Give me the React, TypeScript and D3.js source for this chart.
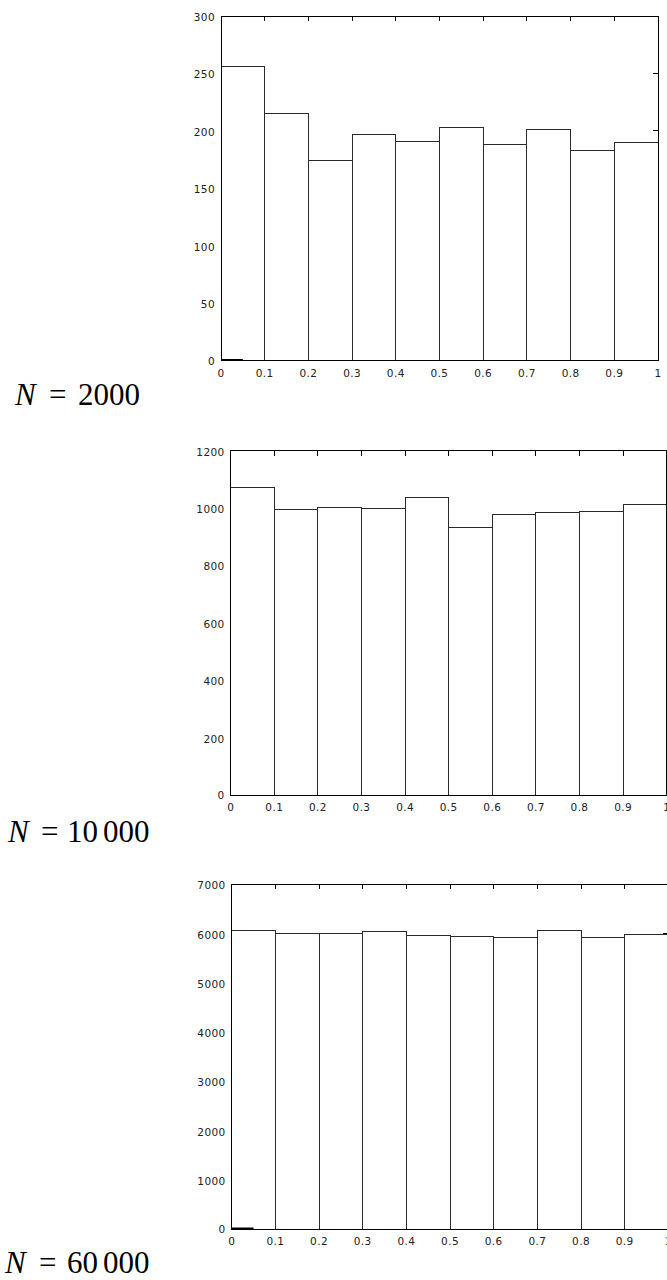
import React from "react";
import * as d3 from "d3";

// ---- data ----
const binStarts = [0, 0.1, 0.2, 0.3, 0.4, 0.5, 0.6, 0.7, 0.8, 0.9];
const binWidth = 0.1;
const xTicks = [0, 0.1, 0.2, 0.3, 0.4, 0.5, 0.6, 0.7, 0.8, 0.9, 1];
const xTickLabels = ["0", "0.1", "0.2", "0.3", "0.4", "0.5", "0.6", "0.7", "0.8", "0.9", "1"];

const counts2000 = [256, 215, 174, 197, 191, 203, 188, 201, 183, 190];
const counts10000 = [1072, 994, 1001, 997, 1036, 934, 976, 984, 987, 1011];
const counts60000 = [6060, 5997, 5997, 6038, 5957, 5936, 5916, 6066, 5910, 5977];

const yTicks2000 = [0, 50, 100, 150, 200, 250, 300];
const yTicks10000 = [0, 200, 400, 600, 800, 1000, 1200];
const yTicks60000 = [0, 1000, 2000, 3000, 4000, 5000, 6000, 7000];

const sampleSizes = ["2000", "10 000", "60 000"];
const stubEnd = [0.05, 0, 0.05];

// ---- layout ----
const panels = [
  { counts: counts2000, yTicks: yTicks2000, x0: 221, x1: 658, yTop: 16, yBot: 360.5,
    label: { x: 15, eq: 49, num: 78, base: 405 }, parts: ["2000"] },
  { counts: counts10000, yTicks: yTicks10000, x0: 230.7, x1: 666.7, yTop: 450.7, yBot: 795,
    label: { x: 8, eq: 41, num: 67, base: 842 }, parts: ["10", "000"] },
  { counts: counts60000, yTicks: yTicks60000, x0: 231.7, x1: 668.4, yTop: 884.3, yBot: 1229,
    label: { x: 5, eq: 39, num: 67, base: 1273 }, parts: ["60", "000"] },
];

const tickFont = "'DejaVu Sans', Arial, sans-serif";

function Panel({ p, idx }: { p: any; idx: number }) {
  const x = d3.scaleLinear().domain([0, 1]).range([p.x0, p.x1]);
  const yMax = p.yTicks[p.yTicks.length - 1];
  const y = d3.scaleLinear().domain([0, yMax]).range([p.yBot, p.yTop]);
  const tl = 5;
  const stub = stubEnd[idx];
  return (
    <g>
      {/* ticks (drawn below bars) */}
      <g stroke="#000" strokeWidth={1} shapeRendering="crispEdges">
        {xTicks.map((t, i) => (
          <g key={"xt" + i}>
            <line x1={x(t)} x2={x(t)} y1={y(yMax)} y2={y(yMax) + tl} />
            <line x1={x(t)} x2={x(t)} y1={y(0)} y2={y(0) - tl} />
          </g>
        ))}
        {p.yTicks.map((t: number, i: number) => (
          <g key={"yt" + i}>
            <line x1={x(0)} x2={x(0) + tl} y1={y(t)} y2={y(t)} />
            <line x1={x(1)} x2={x(1) - tl} y1={y(t)} y2={y(t)} />
          </g>
        ))}
      </g>
      {/* bars */}
      <g fill="#fff" stroke="#2a2a2a" strokeWidth={1} shapeRendering="crispEdges">
        {p.counts.map((c: number, i: number) => (
          <rect
            key={"b" + i}
            x={x(binStarts[i])}
            y={y(c)}
            width={x(binStarts[i] + binWidth) - x(binStarts[i])}
            height={y(0) - y(c)}
          />
        ))}
      </g>
      {stub > 0 && (
        <line x1={x(0)} x2={x(stub)} y1={y(0) - 0.5} y2={y(0) - 0.5} stroke="#000" strokeWidth={2} />
      )}
      {/* box */}
      <rect x={x(0)} y={y(yMax)} width={x(1) - x(0)} height={y(0) - y(yMax)} fill="none" stroke="#000"
        strokeWidth={1} shapeRendering="crispEdges" />
      {/* tick labels */}
      <g fontFamily={tickFont} fontSize={10.5} letterSpacing={0.4} fill="#222">
        {p.yTicks.map((t: number, i: number) => (
          <text key={"yl" + i} x={x(0) - 6} y={y(t) + 4 + (t === 0 ? 0 : 1)} textAnchor="end">
            {String(t)}
          </text>
        ))}
        {xTicks.map((t, i) => (
          <text key={"xl" + i} x={x(t)} y={y(0) + 16} textAnchor="middle">
            {xTickLabels[i]}
          </text>
        ))}
      </g>
      {/* N label */}
      <text fontFamily="'Liberation Serif', 'Times New Roman', serif" fontSize={31} fill="#000" y={p.label.base}>
        <tspan x={p.label.x} fontStyle="italic">N</tspan>
        <tspan x={p.label.eq}>=</tspan>
        {p.parts.length === 1 ? (
          <tspan x={p.label.num}>{sampleSizes[idx]}</tspan>
        ) : (
          <>
            <tspan x={p.label.num}>{p.parts[0]}</tspan>
            <tspan x={p.label.num + 36}>{p.parts[1]}</tspan>
          </>
        )}
      </text>
    </g>
  );
}

export default function App() {
  return (
    <svg width={667} height={1280} style={{ position: "absolute", left: 0, top: 0, background: "#fff" }}>
      <rect x={0} y={0} width={667} height={1280} fill="#fff" />
      {panels.map((p, i) => (
        <Panel key={i} p={p} idx={i} />
      ))}
    </svg>
  );
}
